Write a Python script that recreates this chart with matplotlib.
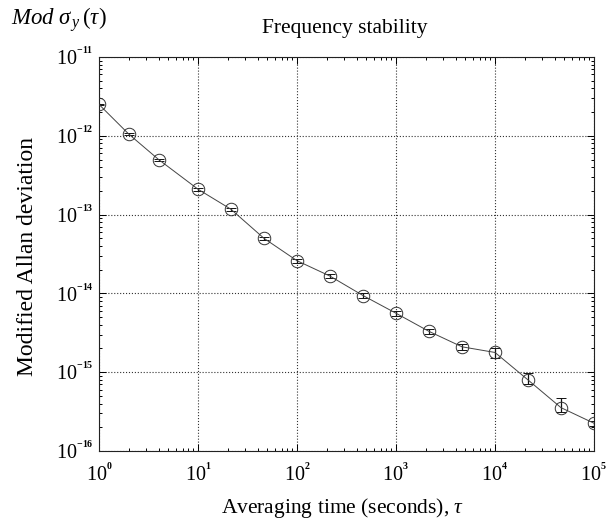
import matplotlib
matplotlib.use("Agg")
import matplotlib.pyplot as plt
import numpy as np
from matplotlib.ticker import LogLocator, FixedLocator, FixedFormatter, NullFormatter

plt.rcParams['font.family'] = ['Liberation Serif', 'DejaVu Serif']
plt.rcParams['mathtext.fontset'] = 'custom'
plt.rcParams['mathtext.rm'] = 'Liberation Serif'
plt.rcParams['mathtext.it'] = 'Liberation Serif:italic'
plt.rcParams['mathtext.bf'] = 'Liberation Serif:bold'

# ---- data ----
tau = [1, 2, 4, 10, 21.5, 46.4, 100, 215, 464, 1000, 2150, 4640,
       1e4, 2.15e4, 4.64e4, 1e5]
mdev = [2.5e-12, 1.05e-12, 5.0e-13, 2.1e-13, 1.17e-13, 5.0e-14, 2.6e-14,
        1.66e-14, 9.4e-15, 5.6e-15, 3.3e-15, 2.1e-15, 1.78e-15, 8.0e-16,
        3.55e-16, 2.25e-16]
err_lo = [0.05e-12, 0.03e-12, 0.15e-13, 0.08e-13, 0.05e-13, 0.25e-14,
          0.15e-14, 0.1e-14, 0.6e-15, 0.4e-15, 0.25e-15, 0.2e-15,
          0.25e-15, 1.0e-16, 0.4e-16, 0.15e-16]
err_hi = [0.05e-12, 0.03e-12, 0.15e-13, 0.08e-13, 0.05e-13, 0.25e-14,
          0.15e-14, 0.1e-14, 0.6e-15, 0.4e-15, 0.25e-15, 0.2e-15,
          0.25e-15, 1.9e-16, 1.2e-16, 0.15e-16]
x_exps = [0, 1, 2, 3, 4, 5]
y_exps = [-16, -15, -14, -13, -12, -11]

title = "Frequency stability"
xlabel = r"Averaging time (seconds), $\tau$"
ylabel = "Modified Allan deviation"
corner = r"$Mod\ \sigma_{\,y}\,(\tau)$"

fig = plt.figure(figsize=(6.06, 5.23), dpi=100)
ax = fig.add_axes([99/606, 1-451/523, (594-99)/606, (451-57)/523])

ax.set_xscale('log')
ax.set_yscale('log')
ax.set_xlim(10.0**x_exps[0], 10.0**x_exps[-1])
ax.set_ylim(10.0**y_exps[0], 10.0**y_exps[-1])

ax.errorbar(tau, mdev, yerr=[err_lo, err_hi], fmt='-', color='#444444',
            lw=0.7, ecolor='#111111', elinewidth=0.9, capsize=3.5,
            capthick=0.9, marker='o', markersize=9, mfc='none',
            mec='#333333', mew=0.7, zorder=3)

ax.xaxis.set_major_locator(FixedLocator([10.0**e for e in x_exps]))
ax.xaxis.set_major_formatter(FixedFormatter(
    [r"$10^{{}^{\mathbf{%d}}}$" % e for e in x_exps]))
ax.yaxis.set_major_locator(FixedLocator([10.0**e for e in y_exps]))
ax.yaxis.set_major_formatter(FixedFormatter(
    [r"$10^{{}^{\mathbf{%d}}}$" % e for e in y_exps]))
ax.xaxis.set_minor_locator(LogLocator(base=10, subs=np.arange(2, 10), numticks=20))
ax.yaxis.set_minor_locator(LogLocator(base=10, subs=np.arange(2, 10), numticks=20))
ax.xaxis.set_minor_formatter(NullFormatter())
ax.yaxis.set_minor_formatter(NullFormatter())

ax.tick_params(which='both', direction='in', top=True, right=True, width=0.7)
ax.tick_params(which='major', length=5, labelsize=14.5)
ax.tick_params(which='minor', length=2.5)
ax.tick_params(axis='x', which='major', pad=9)
ax.tick_params(axis='y', which='major', pad=4)

ax.grid(True, which='major', linestyle=':', color='#333333', linewidth=0.8)
for s in ax.spines.values():
    s.set_linewidth(0.8)
    s.set_color('#222222')

fig.text(345/606, 1-29/523, title, ha='center', va='center', fontsize=15.5)
fig.text(343/606, 1-508/523, xlabel, ha='center', va='center', fontsize=15.5)
fig.text(28/606, 1-256/523, ylabel, ha='center', va='center', fontsize=17,
         rotation=90)
fig.text(11/606, 1-20/523, corner, ha='left', va='center', fontsize=16.5)

fig.savefig('out.png', dpi=100)
